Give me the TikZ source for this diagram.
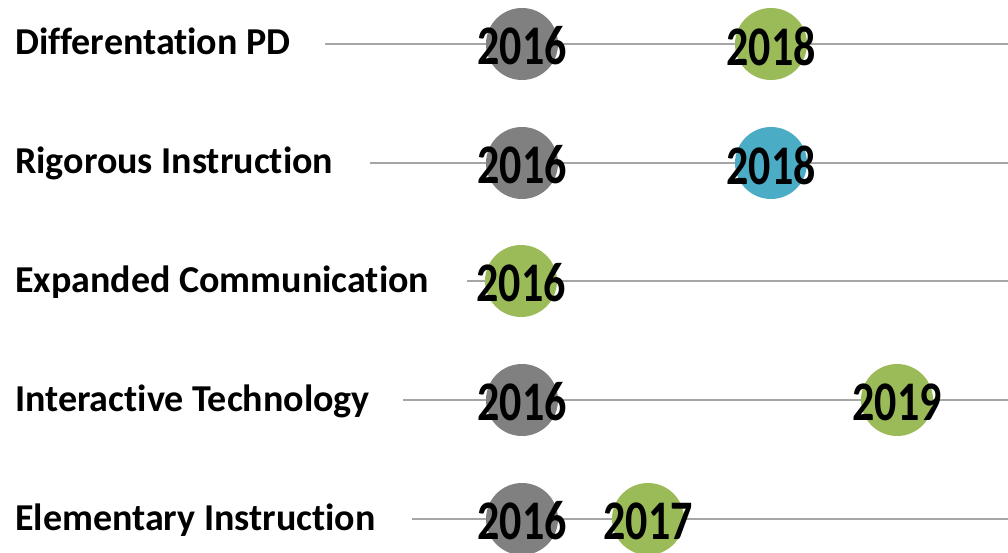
\documentclass[tikz,border=0pt]{standalone}
\usepackage{fontspec}
\setmainfont[Ligatures=NoCommon]{Carlito}
\definecolor{trackgray}{HTML}{A6A6A6}
\definecolor{dotgray}{HTML}{808080}
\definecolor{dotgreen}{HTML}{9BBB59}
\definecolor{dotblue}{HTML}{4BACC6}
\newcommand{\yr}[1]{\scalebox{1}[1.27]{#1}}
\begin{document}
\begin{tikzpicture}[x=1pt,y=-1pt,
  rowlabel/.style={anchor=base west, inner sep=0pt, font=\bfseries\fontsize{38}{40}\selectfont},
  track/.style={draw=trackgray, line width=1.5pt},
  dot/.style={circle, minimum size=72pt, inner sep=0pt, draw=none},
  year/.style={inner sep=0pt, font=\bfseries\fontsize{44}{48}\selectfont}
]
\useasboundingbox (0,0) rectangle (1008,553);

% row labels
\node[rowlabel] (l1) at (15,55)  {Differentation PD};
\node[rowlabel] (l2) at (15,174) {Rigorous Instruction};
\node[rowlabel] (l3) at (15,292) {Expanded Communication};
\node[rowlabel] (l4) at (15,411) {Interactive Technology};
\node[rowlabel] (l5) at (15,530) {Elementary Instruction};

% timeline tracks
\coordinate (s1) at (325,44);  \coordinate (e1) at (1008,44);
\coordinate (s2) at (370,163); \coordinate (e2) at (1008,163);
\coordinate (s3) at (467,281); \coordinate (e3) at (1008,281);
\coordinate (s4) at (403,400); \coordinate (e4) at (1008,400);
\coordinate (s5) at (412,519); \coordinate (e5) at (1008,519);
\foreach \i in {1,...,5} \draw[track] (s\i) -- (e\i);

% milestone dots
\node[dot, fill=dotgray]  (d1a) at (522,44)  {};
\node[dot, fill=dotgreen] (d1b) at (771,44)  {};
\node[dot, fill=dotgray]  (d2a) at (522,163) {};
\node[dot, fill=dotblue]  (d2b) at (771,163) {};
\node[dot, fill=dotgreen] (d3a) at (521,281) {};
\node[dot, fill=dotgray]  (d4a) at (522,400) {};
\node[dot, fill=dotgreen] (d4b) at (897,400) {};
\node[dot, fill=dotgray]  (d5a) at (522,519) {};
\node[dot, fill=dotgreen] (d5b) at (648,519) {};

% year labels
\node[year] (y1a) at ([yshift=-2pt]d1a.center) {\yr{2016}};
\node[year] (y1b) at ([yshift=-2pt]d1b.center) {\yr{2018}};
\node[year] (y2a) at ([yshift=-2pt]d2a.center) {\yr{2016}};
\node[year] (y2b) at ([yshift=-2pt]d2b.center) {\yr{2018}};
\node[year] (y3a) at ([yshift=-2pt]d3a.center) {\yr{2016}};
\node[year] (y4a) at ([yshift=-2pt]d4a.center) {\yr{2016}};
\node[year] (y4b) at ([yshift=-2pt]d4b.center) {\yr{2019}};
\node[year] (y5a) at ([yshift=-2pt]d5a.center) {\yr{2016}};
\node[year] (y5b) at ([yshift=-2pt]d5b.center) {\yr{2017}};
\end{tikzpicture}
\end{document}
